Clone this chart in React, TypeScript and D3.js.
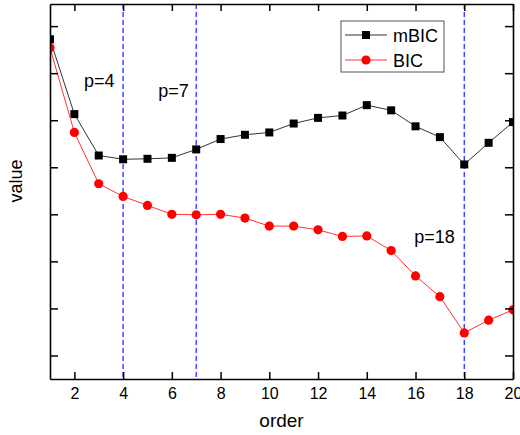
import React, { useEffect, useRef } from 'react';
import * as d3 from 'd3';

const orders = d3.range(1, 21);
const mbic = [6.72, 5.13, 4.25, 4.17, 4.18, 4.2, 4.38, 4.6, 4.69, 4.74, 4.93, 5.05, 5.1, 5.32, 5.21, 4.87, 4.64, 4.06, 4.52, 4.96];
const bic = [6.54, 4.74, 3.65, 3.38, 3.19, 3.0, 2.99, 3.0, 2.92, 2.75, 2.75, 2.67, 2.53, 2.54, 2.23, 1.69, 1.25, 0.48, 0.75, 0.97];
const xTicks = [2, 4, 6, 8, 10, 12, 14, 16, 18, 20];
const yTicks = [0, 1, 2, 3, 4, 5, 6, 7];
const marks = [
  { order: 4, label: 'p=4', dx: -39, y: 5.71 },
  { order: 7, label: 'p=7', dx: -38, y: 5.49 },
  { order: 18, label: 'p=18', dx: -50, y: 2.4 },
];
const series = [
  { name: 'mBIC', values: mbic, color: '#000', line: '#333', shape: 'square' },
  { name: 'BIC', values: bic, color: '#f00', line: '#f33', shape: 'circle' },
];

const W = 520;
const H = 435;
const font = 'Arial, "Liberation Sans", sans-serif';

const App = () => {
  const svgRef = useRef<SVGSVGElement>(null);

  useEffect(() => {
    const svg = d3.select(svgRef.current);
    svg.selectAll('*').remove();

    const left = 50, right = 513, top = 4, bottom = 379;
    const x = d3.scaleLinear().domain([1, 20]).range([left, right]);
    const y = d3.scaleLinear().domain([-0.5, 7.47]).range([bottom, top]);

    svg.append('defs').append('clipPath').attr('id', 'plot')
      .append('rect').attr('x', left).attr('y', top)
      .attr('width', right - left).attr('height', bottom - top);

    // dashed markers
    svg.append('g').selectAll('line').data(marks).enter().append('line')
      .attr('x1', (d) => x(d.order)).attr('x2', (d) => x(d.order))
      .attr('y1', top).attr('y2', bottom)
      .attr('stroke', '#2b2bff').attr('stroke-width', 1.3)
      .attr('stroke-dasharray', '5,3');

    svg.append('g').selectAll('text').data(marks).enter().append('text')
      .attr('x', (d) => x(d.order) + d.dx).attr('y', (d) => y(d.y))
      .attr('font-family', font).attr('font-size', 18).attr('fill', '#000')
      .text((d) => d.label);

    const plot = svg.append('g').attr('clip-path', 'url(#plot)');
    const line = d3.line<number>().x((d, i) => x(orders[i])).y((d) => y(d));

    series.forEach((s) => {
      plot.append('path').datum(s.values).attr('d', line)
        .attr('fill', 'none').attr('stroke', s.line).attr('stroke-width', 1);
      if (s.shape === 'square') {
        plot.selectAll('rect.' + s.name).data(s.values).enter().append('rect')
          .attr('x', (d, i) => x(orders[i]) - 4).attr('y', (d) => y(d) - 4)
          .attr('width', 8).attr('height', 8).attr('fill', s.color);
      } else {
        plot.selectAll('circle.' + s.name).data(s.values).enter().append('circle')
          .attr('cx', (d, i) => x(orders[i])).attr('cy', (d) => y(d))
          .attr('r', 4.6).attr('fill', s.color);
      }
    });

    // axes
    const styleAxis = (g) => {
      g.selectAll('path').attr('stroke', '#000').attr('stroke-width', 1.6);
      g.selectAll('line').attr('stroke', '#000').attr('stroke-width', 1.5);
      g.selectAll('text').attr('font-family', font).attr('font-size', 16).attr('fill', '#000');
    };
    svg.append('g').attr('transform', `translate(0,${bottom})`)
      .call(d3.axisBottom(x).tickValues(xTicks).tickSizeInner(-7).tickSizeOuter(0).tickPadding(9))
      .call(styleAxis);
    svg.append('g').attr('transform', `translate(0,${top})`)
      .call(d3.axisTop(x).tickValues(xTicks).tickSizeInner(-7).tickSizeOuter(0).tickFormat(() => ''))
      .call(styleAxis);
    svg.append('g').attr('transform', `translate(${left},0)`)
      .call(d3.axisLeft(y).tickValues(yTicks).tickSizeInner(-8).tickSizeOuter(0).tickFormat(() => ''))
      .call(styleAxis);
    svg.append('g').attr('transform', `translate(${right},0)`)
      .call(d3.axisRight(y).tickValues(yTicks).tickSizeInner(-8).tickSizeOuter(0).tickFormat(() => ''))
      .call(styleAxis);

    svg.append('text').attr('x', (left + right) / 2).attr('y', 427)
      .attr('text-anchor', 'middle').attr('font-family', font).attr('font-size', 19)
      .attr('fill', '#000').text('order');
    svg.append('text').attr('transform', 'translate(22,181) rotate(-90)')
      .attr('text-anchor', 'middle').attr('font-family', font).attr('font-size', 18)
      .attr('fill', '#000').text('value');

    // legend
    const lg = svg.append('g').attr('transform', 'translate(341,21)');
    lg.append('rect').attr('width', 103).attr('height', 51)
      .attr('fill', '#fff').attr('stroke', '#555').attr('stroke-width', 1);
    series.forEach((s, i) => {
      const row = lg.append('g').attr('transform', `translate(0,${14 + i * 25})`);
      row.append('line').attr('x1', 4).attr('x2', 46).attr('stroke', s.line).attr('stroke-width', 1);
      if (s.shape === 'square') {
        row.append('rect').attr('x', 21).attr('y', -4).attr('width', 8).attr('height', 8).attr('fill', s.color);
      } else {
        row.append('circle').attr('cx', 25).attr('r', 4.6).attr('fill', s.color);
      }
      row.append('text').attr('x', 52).attr('y', 6.5)
        .attr('font-family', font).attr('font-size', 18).attr('fill', '#000').text(s.name);
    });
  }, []);

  return (
    <svg ref={svgRef} width={W} height={H}
      style={{ position: 'absolute', left: 0, top: 0, background: '#fff' }} />
  );
};

export default App;
